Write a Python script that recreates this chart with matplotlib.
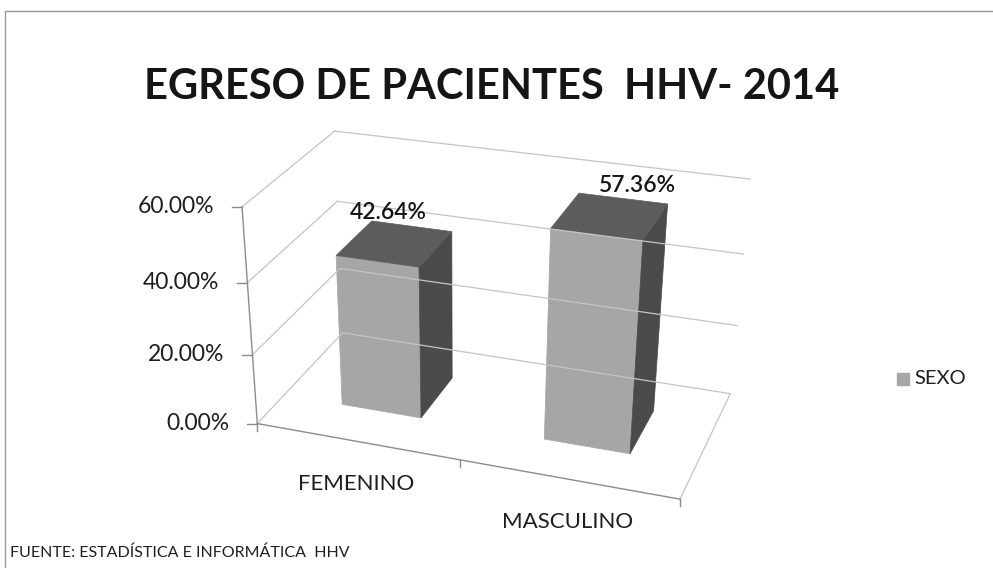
import numpy as np
import matplotlib.pyplot as plt
from matplotlib.patches import Polygon, Rectangle

# datos del grafico
categorias = ['FEMENINO', 'MASCULINO']
porcentajes = [42.64, 57.36]
ticks_y = [0, 20, 40, 60]
serie = 'SEXO'
titulo = 'EGRESO DE PACIENTES  HHV- 2014'
fuente = 'FUENTE: ESTADÍSTICA E INFORMÁTICA  HHV'

plt.rcParams['font.family'] = ['Lato', 'DejaVu Sans']

# --- camara del falso 3D (x = categoria, y = %, z = fondo) -> pixel ---
# puntos de calibracion de la caja del grafico (esquinas y marcas del eje)
cal_mundo = np.array([
    [0, 0, 0], [1, 0, 0], [2, 0, 0],
    [0, 20, 0], [0, 40, 0], [0, 60, 0],
    [0, 60, 1], [0, 0, 1],
    [2, 0, 1], [2, 20, 1], [2, 40, 1], [2, 60, 1],
], dtype=float)
cal_pix = np.array([
    [260, 418], [459, 462], [680, 503],
    [253, 353], [247, 283], [240, 208],
    [337, 128], [340, 340],
    [731, 388], [737, 323], [743, 255], [750, 182],
], dtype=float)

c = cal_pix.mean(axis=0)
s = 200.0
escala_y = 30.0
A = []
for (X, Y, Z), (u, v) in zip(cal_mundo, (cal_pix - c) / s):
    Y = Y / escala_y
    A.append([X, Y, Z, 1, 0, 0, 0, 0, -u * X, -u * Y, -u * Z, -u])
    A.append([0, 0, 0, 0, X, Y, Z, 1, -v * X, -v * Y, -v * Z, -v])
_, _, vt = np.linalg.svd(np.array(A))
P = vt[-1].reshape(3, 4)


def proyectar(x, y, z):
    u, v, w = P @ np.array([x, y / escala_y, z, 1.0])
    return u / w * s + c[0], v / w * s + c[1]


def linea(p0, p1, **kw):
    a = proyectar(*p0)
    b = proyectar(*p1)
    ax.plot([a[0], b[0]], [a[1], b[1]], **kw)


fig = plt.figure(figsize=(9.93, 5.68), dpi=100)
ax = fig.add_axes([0, 0, 1, 1])
ax.set_xlim(0, 993)
ax.set_ylim(568, 0)
ax.axis('off')

# borde de la hoja escaneada
ax.plot([5, 5, 993], [568, 11, 11], color='#9a9a9a', lw=1.0)

ax.text(492, 99, titulo, ha='center', va='baseline', fontsize=30,
        fontweight='bold', color='#151515')

n = len(categorias)
ymax = ticks_y[-1]
gris_grid = '#c4c4c4'

# paredes: lateral izquierda y fondo
for t in ticks_y:
    linea((0, t, 0), (0, t, 1), color=gris_grid, lw=0.9)
    linea((0, t, 1), (n, t, 1), color=gris_grid, lw=0.9)
linea((n, 0, 0), (n, 0, 1), color=gris_grid, lw=0.9)

# ejes
linea((0, 0, 0), (0, ymax, 0), color='#8c8c8c', lw=1.0)
linea((0, 0, 0), (n, 0, 0), color='#8c8c8c', lw=1.0)
for t in ticks_y:
    px, py = proyectar(0, t, 0)
    ax.plot([px - 10, px], [py, py], color='#8c8c8c', lw=1.0)
    ax.text(px - 28, py, f'{t:.2f}%', ha='right', va='center',
            fontsize=16.5, color='#1e1e1e')
for i in range(n + 1):
    px, py = proyectar(i, 0, 0)
    ax.plot([px, px], [py, py + 7], color='#8c8c8c', lw=1.0)
for i, cat in enumerate(categorias):
    px, py = proyectar(i + 0.5, 0, 0)
    ax.text(px, py + 43, cat, ha='center', va='center', fontsize=16,
            color='#1e1e1e')

# barras
ancho = 0.4
z0, z1 = 0.3, 0.72
c_frente, c_lado, c_tope = '#a6a6a6', '#4a4a4a', '#5c5c5c'
nudge_x = [-6, 28]
for i, v in enumerate(porcentajes):
    x0 = i + (1 - ancho) / 2
    x1 = x0 + ancho
    caras = [
        ([(x0, 0, z0), (x1, 0, z0), (x1, v, z0), (x0, v, z0)], c_frente),
        ([(x1, 0, z0), (x1, 0, z1), (x1, v, z1), (x1, v, z0)], c_lado),
        ([(x0, v, z0), (x1, v, z0), (x1, v, z1), (x0, v, z1)], c_tope),
    ]
    for pts, col in caras:
        ax.add_patch(Polygon([proyectar(*p) for p in pts], closed=True,
                             facecolor=col, edgecolor=col, lw=0.5))
    px, py = proyectar(i + 0.5, v, (z0 + z1) / 2)
    ax.text(px + nudge_x[i], py - 31, f'{v:.2f}%', ha='center', va='center',
            fontsize=16.5, fontweight='semibold', color='#151515')

# leyenda
ax.add_patch(Rectangle((897, 373), 12, 12, facecolor=c_frente,
                       edgecolor=c_frente))
ax.text(914, 379, serie, ha='left', va='center', fontsize=14.5,
        color='#1e1e1e')

ax.text(10, 553, fuente, ha='left', va='center', fontsize=11.5,
        color='#1e1e1e')

fig.savefig('out.png', dpi=100)
